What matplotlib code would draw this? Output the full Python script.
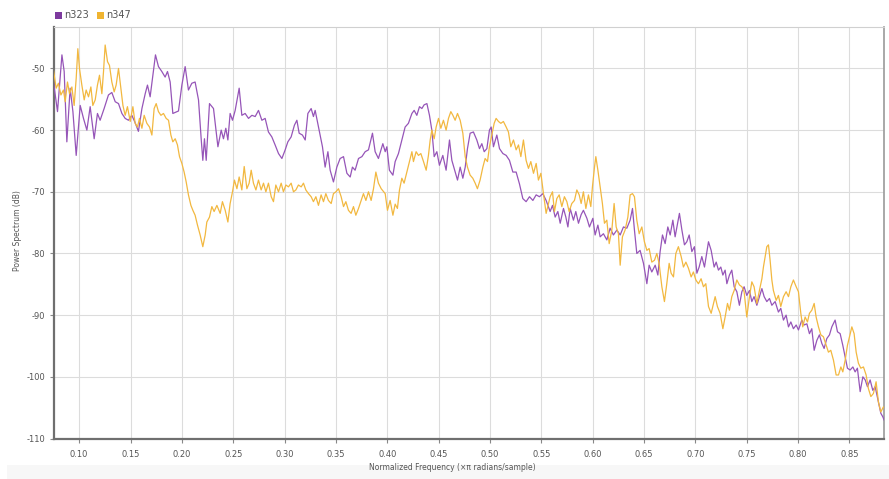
import matplotlib
matplotlib.use("Agg")
import matplotlib.pyplot as plt
from matplotlib.patches import Rectangle

# Power spectra of two signals (normalized frequency vs dB)
series_names = ["n323", "n347"]
line_colors = ["#9655b8", "#f2b840"]
legend_colors = ["#7d3a9e", "#f0b430"]

n323_freq = [
    0.0750, 0.0789, 0.0832, 0.0854, 0.0880, 0.0912, 0.0939, 0.0971, 0.1010, 0.1042,
    0.1075, 0.1107, 0.1146, 0.1178, 0.1204, 0.1243, 0.1285, 0.1318, 0.1351, 0.1383,
    0.1416, 0.1448, 0.1480, 0.1513, 0.1545, 0.1577, 0.1611, 0.1643, 0.1665, 0.1691,
    0.1718, 0.1743, 0.1772, 0.1805, 0.1837, 0.1860, 0.1886, 0.1912, 0.1967, 0.2000,
    0.2032, 0.2064, 0.2097, 0.2129, 0.2162, 0.2188, 0.2204, 0.2220, 0.2237, 0.2269,
    0.2308, 0.2351, 0.2383, 0.2405, 0.2428, 0.2448, 0.2470, 0.2493, 0.2519, 0.2558,
    0.2584, 0.2616, 0.2649, 0.2682, 0.2714, 0.2746, 0.2779, 0.2811, 0.2843, 0.2876,
    0.2908, 0.2941, 0.2974, 0.3006, 0.3032, 0.3064, 0.3096, 0.3120, 0.3142, 0.3174,
    0.3201, 0.3227, 0.3259, 0.3281, 0.3298, 0.3330, 0.3369, 0.3395, 0.3422, 0.3444,
    0.3476, 0.3509, 0.3541, 0.3574, 0.3607, 0.3639, 0.3661, 0.3687, 0.3720, 0.3753,
    0.3785, 0.3817, 0.3856, 0.3882, 0.3914, 0.3957, 0.3980, 0.3996, 0.4021, 0.4055,
    0.4077, 0.4109, 0.4142, 0.4174, 0.4206, 0.4240, 0.4262, 0.4288, 0.4314, 0.4337,
    0.4359, 0.4386, 0.4411, 0.4434, 0.4457, 0.4483, 0.4508, 0.4541, 0.4573, 0.4606,
    0.4629, 0.4661, 0.4684, 0.4710, 0.4736, 0.4759, 0.4781, 0.4807, 0.4839, 0.4872,
    0.4898, 0.4921, 0.4944, 0.4970, 0.4995, 0.5012, 0.5034, 0.5067, 0.5093, 0.5126,
    0.5158, 0.5190, 0.5223, 0.5255, 0.5287, 0.5320, 0.5352, 0.5385, 0.5418, 0.5450,
    0.5482, 0.5515, 0.5547, 0.5586, 0.5609, 0.5635, 0.5661, 0.5684, 0.5716, 0.5739,
    0.5759, 0.5781, 0.5813, 0.5836, 0.5862, 0.5888, 0.5910, 0.5944, 0.5969, 0.6002,
    0.6024, 0.6051, 0.6073, 0.6105, 0.6138, 0.6170, 0.6202, 0.6236, 0.6268, 0.6300,
    0.6333, 0.6365, 0.6388, 0.6407, 0.6430, 0.6462, 0.6495, 0.6528, 0.6550, 0.6576,
    0.6609, 0.6635, 0.6657, 0.6680, 0.6706, 0.6732, 0.6755, 0.6781, 0.6803, 0.6830,
    0.6845, 0.6869, 0.6894, 0.6917, 0.6940, 0.6966, 0.6991, 0.7015, 0.7037, 0.7063,
    0.7089, 0.7128, 0.7154, 0.7183, 0.7203, 0.7225, 0.7248, 0.7268, 0.7290, 0.7307,
    0.7332, 0.7355, 0.7378, 0.7404, 0.7429, 0.7453, 0.7475, 0.7501, 0.7527, 0.7550,
    0.7572, 0.7599, 0.7624, 0.7648, 0.7670, 0.7696, 0.7722, 0.7745, 0.7777, 0.7809,
    0.7832, 0.7858, 0.7884, 0.7907, 0.7930, 0.7955, 0.7982, 0.8004, 0.8037, 0.8059,
    0.8086, 0.8111, 0.8134, 0.8157, 0.8183, 0.8208, 0.8232, 0.8254, 0.8280, 0.8306,
    0.8329, 0.8361, 0.8384, 0.8410, 0.8436, 0.8459, 0.8481, 0.8507, 0.8534, 0.8556,
    0.8578, 0.8605, 0.8631, 0.8654, 0.8676, 0.8702, 0.8728, 0.8751, 0.8783, 0.8806,
    0.8826, 0.8838,
]
n323_db = [
    -52.2, -57.0, -47.8, -50.5, -61.9, -53.2, -57.0, -64.1, -56.0, -58.1,
    -60.0, -56.2, -61.4, -57.3, -58.4, -56.5, -54.3, -53.9, -55.4, -55.7,
    -57.3, -58.1, -58.4, -57.6, -58.8, -60.2, -56.5, -54.1, -52.7, -54.6,
    -51.1, -47.8, -49.7, -50.5, -51.4, -50.5, -52.2, -57.3, -56.9, -52.7,
    -49.7, -53.5, -52.4, -52.2, -55.1, -61.4, -64.9, -61.4, -64.9, -55.7,
    -56.5, -62.7, -60.0, -61.4, -59.7, -61.6, -57.3, -58.4, -56.8, -53.2,
    -57.6, -57.3, -58.1, -57.6, -57.8, -56.8, -58.4, -58.1, -60.3, -61.1,
    -62.4, -63.8, -64.6, -63.2, -61.9, -61.1, -59.2, -58.4, -60.5, -60.8,
    -61.6, -57.3, -56.5, -57.8, -56.8, -59.5, -62.7, -66.0, -63.5, -66.5,
    -68.4, -66.0, -64.6, -64.3, -67.0, -67.6, -66.0, -66.5, -64.6, -64.3,
    -63.5, -63.2, -60.5, -63.5, -64.6, -62.2, -63.5, -62.7, -66.5, -67.3,
    -65.1, -63.8, -61.6, -59.5, -58.9, -57.3, -56.8, -57.6, -56.2, -56.5,
    -55.9, -55.7, -57.6, -60.0, -64.3, -63.5, -65.7, -64.1, -66.5, -61.6,
    -64.9, -66.8, -68.1, -66.0, -67.8, -66.0, -63.0, -60.5, -60.3, -61.6,
    -63.0, -62.2, -63.5, -63.0, -60.0, -59.5, -62.7, -60.8, -63.0, -63.8,
    -64.1, -64.9, -66.8, -66.8, -68.7, -71.1, -71.6, -70.8, -71.4, -70.5,
    -70.8, -70.3, -71.4, -73.2, -72.2, -74.1, -73.2, -75.1, -72.7, -74.1,
    -75.7, -72.7, -74.6, -73.2, -75.1, -73.7, -73.0, -74.3, -75.7, -74.3,
    -77.0, -75.4, -77.3, -76.8, -77.8, -75.9, -77.0, -76.2, -77.0, -75.7,
    -75.9, -74.6, -72.7, -76.2, -80.0, -79.5, -81.6, -84.9, -81.9, -83.0,
    -81.9, -83.5, -79.7, -77.0, -78.4, -75.7, -77.0, -74.6, -77.3, -74.9,
    -73.5, -76.2, -78.6, -78.1, -77.0, -79.7, -78.9, -83.2, -82.2, -80.5,
    -82.2, -78.1, -79.5, -82.2, -81.4, -82.7, -82.2, -83.5, -82.7, -84.9,
    -83.5, -82.7, -85.4, -86.2, -88.4, -86.2, -85.4, -86.8, -86.0, -87.8,
    -87.0, -88.4, -87.0, -85.7, -87.0, -87.8, -87.3, -88.4, -87.8, -89.5,
    -88.9, -90.8, -90.0, -91.9, -91.1, -92.2, -91.6, -92.4, -90.8, -91.6,
    -91.4, -93.0, -92.2, -95.7, -94.1, -93.2, -94.6, -95.4, -93.8, -93.2,
    -91.9, -90.8, -92.7, -93.0, -94.9, -96.8, -98.6, -98.9, -98.4, -99.2,
    -98.6, -102.4, -100.0, -100.5, -101.6, -100.5, -102.2, -101.6, -104.1, -105.9,
    -106.5, -107.0,
]

n347_freq = [
    0.0750, 0.0776, 0.0798, 0.0822, 0.0847, 0.0864, 0.0886, 0.0906, 0.0929, 0.0951,
    0.0971, 0.0987, 0.1003, 0.1026, 0.1049, 0.1068, 0.1091, 0.1114, 0.1133, 0.1156,
    0.1178, 0.1198, 0.1221, 0.1237, 0.1253, 0.1276, 0.1295, 0.1318, 0.1341, 0.1360,
    0.1383, 0.1406, 0.1426, 0.1448, 0.1470, 0.1497, 0.1523, 0.1545, 0.1568, 0.1587,
    0.1611, 0.1633, 0.1659, 0.1685, 0.1708, 0.1730, 0.1750, 0.1772, 0.1796, 0.1821,
    0.1847, 0.1870, 0.1893, 0.1912, 0.1935, 0.1957, 0.1977, 0.2000, 0.2022, 0.2042,
    0.2064, 0.2088, 0.2107, 0.2129, 0.2152, 0.2178, 0.2204, 0.2227, 0.2243, 0.2269,
    0.2292, 0.2314, 0.2341, 0.2373, 0.2395, 0.2422, 0.2448, 0.2470, 0.2493, 0.2512,
    0.2536, 0.2558, 0.2584, 0.2607, 0.2633, 0.2655, 0.2675, 0.2697, 0.2721, 0.2746,
    0.2772, 0.2795, 0.2818, 0.2843, 0.2870, 0.2892, 0.2915, 0.2941, 0.2967, 0.2989,
    0.3013, 0.3038, 0.3064, 0.3087, 0.3110, 0.3135, 0.3162, 0.3184, 0.3207, 0.3233,
    0.3259, 0.3281, 0.3305, 0.3330, 0.3356, 0.3379, 0.3402, 0.3427, 0.3454, 0.3476,
    0.3500, 0.3525, 0.3551, 0.3574, 0.3597, 0.3622, 0.3648, 0.3671, 0.3694, 0.3720,
    0.3746, 0.3768, 0.3792, 0.3817, 0.3843, 0.3866, 0.3889, 0.3914, 0.3941, 0.3980,
    0.4002, 0.4028, 0.4055, 0.4077, 0.4099, 0.4119, 0.4142, 0.4164, 0.4191, 0.4216,
    0.4240, 0.4255, 0.4281, 0.4304, 0.4327, 0.4353, 0.4379, 0.4401, 0.4418, 0.4434,
    0.4457, 0.4476, 0.4499, 0.4522, 0.4547, 0.4573, 0.4596, 0.4619, 0.4639, 0.4661,
    0.4684, 0.4710, 0.4736, 0.4759, 0.4781, 0.4807, 0.4833, 0.4856, 0.4878, 0.4904,
    0.4931, 0.4953, 0.4976, 0.4995, 0.5018, 0.5041, 0.5060, 0.5083, 0.5106, 0.5131,
    0.5158, 0.5180, 0.5203, 0.5229, 0.5255, 0.5278, 0.5301, 0.5326, 0.5352, 0.5375,
    0.5398, 0.5424, 0.5450, 0.5472, 0.5496, 0.5521, 0.5547, 0.5586, 0.5609, 0.5628,
    0.5651, 0.5674, 0.5700, 0.5725, 0.5749, 0.5771, 0.5797, 0.5823, 0.5846, 0.5869,
    0.5888, 0.5910, 0.5934, 0.5959, 0.5982, 0.5998, 0.6018, 0.6031, 0.6051, 0.6073,
    0.6095, 0.6115, 0.6138, 0.6161, 0.6187, 0.6209, 0.6229, 0.6251, 0.6268, 0.6290,
    0.6316, 0.6343, 0.6365, 0.6388, 0.6407, 0.6430, 0.6453, 0.6479, 0.6504, 0.6528,
    0.6550, 0.6576, 0.6602, 0.6625, 0.6647, 0.6674, 0.6699, 0.6722, 0.6745, 0.6764,
    0.6787, 0.6810, 0.6835, 0.6862, 0.6884, 0.6908, 0.6933, 0.6959, 0.6981, 0.7005,
    0.7030, 0.7056, 0.7079, 0.7102, 0.7128, 0.7154, 0.7193, 0.7215, 0.7241, 0.7268,
    0.7290, 0.7313, 0.7332, 0.7355, 0.7378, 0.7404, 0.7429, 0.7453, 0.7475, 0.7501,
    0.7527, 0.7550, 0.7572, 0.7599, 0.7624, 0.7648, 0.7663, 0.7680, 0.7696, 0.7712,
    0.7728, 0.7745, 0.7760, 0.7787, 0.7809, 0.7832, 0.7858, 0.7884, 0.7907, 0.7930,
    0.7955, 0.7982, 0.8004, 0.8027, 0.8046, 0.8069, 0.8092, 0.8111, 0.8134, 0.8157,
    0.8176, 0.8199, 0.8222, 0.8247, 0.8274, 0.8296, 0.8319, 0.8345, 0.8371, 0.8394,
    0.8417, 0.8436, 0.8459, 0.8481, 0.8501, 0.8524, 0.8546, 0.8566, 0.8588, 0.8611,
    0.8637, 0.8663, 0.8685, 0.8709, 0.8734, 0.8760, 0.8783, 0.8806, 0.8831,
]
n347_db = [
    -50.3, -53.2, -52.4, -54.3, -53.5, -55.4, -52.2, -54.1, -53.0, -56.0,
    -51.6, -46.8, -50.0, -52.7, -55.1, -53.5, -54.6, -53.0, -56.0, -55.1,
    -52.7, -51.1, -54.1, -50.5, -46.2, -48.9, -49.5, -52.2, -53.8, -52.7,
    -50.0, -53.2, -56.0, -57.6, -56.2, -58.6, -56.2, -58.9, -59.5, -58.1,
    -59.7, -57.6, -58.9, -59.5, -60.8, -56.5, -55.7, -57.0, -57.6, -57.3,
    -58.1, -58.4, -60.8, -61.9, -61.4, -62.4, -64.3, -65.4, -66.8, -68.4,
    -70.5, -72.2, -73.0, -73.8, -75.4, -77.0, -78.9, -77.0, -74.9, -74.1,
    -72.4, -73.2, -72.2, -73.5, -71.6, -73.0, -74.9, -71.9, -70.0, -68.1,
    -69.5, -67.6, -69.7, -65.9, -69.5, -68.6, -66.5, -68.6, -69.7, -68.1,
    -69.7, -68.6, -70.0, -68.6, -70.8, -71.6, -68.9, -70.0, -68.6, -70.0,
    -68.9, -69.2, -68.6, -70.0, -69.7, -68.9, -69.2, -68.6, -69.7, -70.3,
    -70.8, -71.6, -70.8, -72.2, -70.5, -71.6, -70.3, -71.4, -71.9, -70.3,
    -70.0, -69.5, -70.8, -72.4, -71.6, -73.0, -73.5, -72.4, -73.8, -72.7,
    -71.4, -70.3, -71.4, -70.0, -71.4, -69.5, -66.8, -68.6, -69.5, -70.3,
    -73.0, -71.4, -73.8, -72.0, -72.7, -69.7, -67.8, -68.6, -66.8, -65.1,
    -63.5, -65.1, -63.5, -64.1, -63.8, -65.1, -66.5, -64.1, -61.6, -60.0,
    -61.4, -59.5, -58.1, -59.7, -58.4, -60.0, -58.1, -57.0, -57.6, -58.4,
    -57.3, -58.4, -60.5, -64.3, -66.0, -67.3, -67.8, -68.6, -69.5, -68.1,
    -66.0, -64.6, -65.1, -62.7, -60.8, -58.9, -58.1, -58.6, -58.9, -58.6,
    -59.5, -60.3, -62.7, -61.6, -63.2, -62.4, -64.3, -61.6, -64.9, -66.2,
    -65.1, -67.0, -65.4, -68.1, -67.0, -70.3, -73.5, -70.8, -70.0, -73.2,
    -71.1, -70.5, -72.4, -70.8, -71.6, -73.2, -71.9, -71.4, -69.7, -70.5,
    -71.9, -70.0, -72.7, -70.5, -72.4, -69.2, -66.0, -64.3, -66.5, -69.2,
    -71.9, -75.1, -74.6, -78.4, -76.2, -71.9, -75.7, -76.8, -81.9, -77.3,
    -76.2, -74.1, -70.5, -70.3, -70.8, -74.6, -76.8, -75.7, -78.1, -79.5,
    -79.2, -81.4, -81.1, -80.0, -81.6, -85.4, -87.8, -84.9, -81.6, -83.2,
    -83.8, -80.0, -78.9, -80.5, -82.2, -81.4, -82.4, -83.8, -83.0, -84.3,
    -84.9, -84.1, -85.4, -84.9, -88.6, -89.7, -87.0, -88.6, -89.7, -92.2,
    -90.3, -88.1, -89.2, -87.0, -86.0, -84.3, -85.1, -85.4, -86.2, -90.3,
    -87.0, -84.6, -85.4, -88.1, -86.0, -84.1, -82.2, -80.5, -78.9, -78.6,
    -81.1, -84.3, -86.0, -87.6, -86.8, -88.6, -87.0, -86.2, -87.0, -85.4,
    -84.3, -85.4, -86.2, -89.7, -91.9, -90.3, -91.1, -89.7, -89.2, -88.1,
    -90.3, -91.9, -93.2, -93.5, -94.9, -96.0, -95.7, -97.3, -99.7, -99.7,
    -98.4, -99.2, -97.3, -94.9, -93.5, -91.9, -93.0, -96.0, -97.8, -98.6,
    -98.4, -99.7, -101.9, -103.2, -102.7, -100.8, -104.1, -105.7, -104.9,
]

x_ticks = [0.10, 0.15, 0.20, 0.25, 0.30, 0.35, 0.40, 0.45, 0.50,
           0.55, 0.60, 0.65, 0.70, 0.75, 0.80, 0.85]
y_ticks = [-110, -100, -90, -80, -70, -60, -50]
x_range = (0.075, 0.884)
y_range = (-110, -43.2)

W, H = 889, 479
fig = plt.figure(figsize=(W / 100, H / 100), dpi=100)
fig.patch.set_facecolor("white")

# light footer band under the axis title
fig.patches.append(Rectangle((7 / W, 0), 1, 14 / H, transform=fig.transFigure,
                             facecolor="#f7f7f7", edgecolor="none", zorder=0))

left, right, top, bottom = 53.5, 884.3, 26.5, 438.5
ax = fig.add_axes([left / W, 1 - bottom / H, (right - left) / W, (bottom - top) / H])
ax.set_facecolor("white")

for freq, db, color in zip([n323_freq, n347_freq], [n323_db, n347_db], line_colors):
    ax.plot(freq, db, color=color, linewidth=0.9, solid_joinstyle="round", zorder=3)

ax.set_xlim(*x_range)
ax.set_ylim(*y_range)
ax.set_xticks(x_ticks)
ax.set_xticklabels([f"{t:.2f}" for t in x_ticks])
ax.set_yticks(y_ticks)
ax.set_yticklabels([str(t) for t in y_ticks])

ax.grid(True, color="#dcdcdc", linewidth=0.8, zorder=0)
ax.set_axisbelow(True)

for side in ("left", "bottom"):
    ax.spines[side].set_color("#6f6f6f")
    ax.spines[side].set_linewidth(1.6)
ax.spines["right"].set_color("#9a9a9a")
ax.spines["right"].set_linewidth(1.2)
ax.spines["top"].set_color("#d0d0d0")
ax.spines["top"].set_linewidth(0.8)

ax.tick_params(axis="both", direction="out", length=3, width=0.8, color="#888888",
               labelsize=6, labelcolor="#555555")
ax.tick_params(axis="x", pad=5)
ax.tick_params(axis="y", pad=3)

fig.text(452 / W, 1 - 467 / H, "Normalized Frequency (×π radians/sample)",
         ha="center", va="center", fontsize=5.5, color="#555555")
fig.text(18 / W, 1 - 231 / H, "Power Spectrum (dB)", rotation=90,
         ha="center", va="center", fontsize=5.5, color="#555555")

# legend row at the top left
legend_x = [55, 97]
for name, color, lx in zip(series_names, legend_colors, legend_x):
    fig.patches.append(Rectangle((lx / W, 1 - 18.5 / H), 6.5 / W, 6.5 / H,
                                 transform=fig.transFigure, facecolor=color,
                                 edgecolor="none"))
    fig.text((lx + 9) / W, 1 - 15.3 / H, name, ha="left", va="center",
             fontsize=7, color="#555555")

fig.savefig("out.png", dpi=100, facecolor=fig.get_facecolor())
